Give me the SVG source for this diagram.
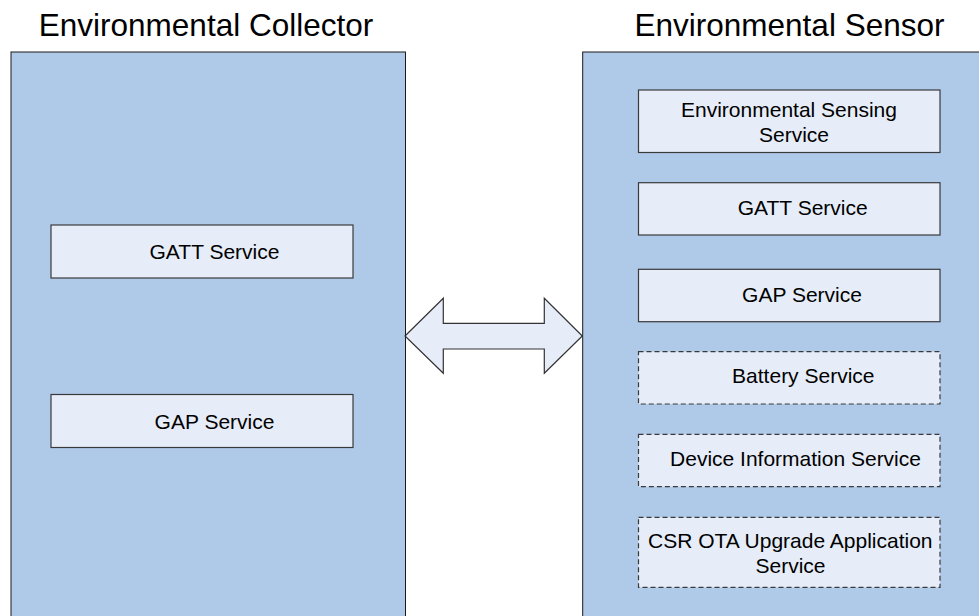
<svg xmlns="http://www.w3.org/2000/svg" width="979" height="616" viewBox="0 0 979 616">
<style>
  .panel { fill: #afc9e9; stroke: #1a1a1a; stroke-width: 1; }
  .box { fill: #e6edf8; stroke: #3a3a3a; stroke-width: 1.2; }
  .dashed { stroke-dasharray: 5 3; }
  .title { font-family: "Liberation Sans", Arial, sans-serif; font-size: 31.5px; fill: #000; text-anchor: middle; }
  .label { font-family: "Liberation Sans", Arial, sans-serif; font-size: 21px; fill: #000; text-anchor: middle; }
  .arrow { fill: #e6edf8; stroke: #333; stroke-width: 1.2; stroke-linejoin: miter; }
</style>
<rect x="0" y="0" width="979" height="616" fill="#ffffff"/>

<g id="collector">
  <rect class="panel" x="11" y="52" width="394.5" height="580"/>
  <text class="title" x="206" y="36">Environmental Collector</text>
</g>
<g id="collector-gatt">
  <rect class="box" x="51" y="225" width="302" height="53"/>
  <text class="label" x="214.5" y="259">GATT Service</text>
</g>
<g id="collector-gap">
  <rect class="box" x="51" y="394.5" width="302" height="53"/>
  <text class="label" x="214.5" y="428.5">GAP Service</text>
</g>

<g id="sensor">
  <rect class="panel" x="582.7" y="52" width="420" height="580"/>
  <text class="title" x="789.5" y="36">Environmental Sensor</text>
</g>
<g id="sensor-ess">
  <rect class="box" x="638.5" y="90" width="301.5" height="62.5"/>
  <text class="label" x="789" y="116.7">Environmental Sensing</text>
  <text class="label" x="794" y="141.7">Service</text>
</g>
<g id="sensor-gatt">
  <rect class="box" x="638.5" y="182.7" width="301.5" height="52.3"/>
  <text class="label" x="802.7" y="214.5">GATT Service</text>
</g>
<g id="sensor-gap">
  <rect class="box" x="638.5" y="269.3" width="301.5" height="52.4"/>
  <text class="label" x="802" y="301.7">GAP Service</text>
</g>
<g id="sensor-battery">
  <rect class="box dashed" x="638.5" y="351.7" width="301.5" height="52.3"/>
  <text class="label" x="803.3" y="383.3">Battery Service</text>
</g>
<g id="sensor-dis">
  <rect class="box dashed" x="638.5" y="434.3" width="301.5" height="52.4"/>
  <text class="label" x="795.5" y="466">Device Information Service</text>
</g>
<g id="sensor-ota">
  <rect class="box dashed" x="638.5" y="517.3" width="301.5" height="70"/>
  <text class="label" x="790.3" y="548.3">CSR OTA Upgrade Application</text>
  <text class="label" x="790.5" y="572.7">Service</text>
</g>

<g id="connectors">
  <polygon class="arrow" points="405,336 443.3,298.3 443.3,323.3 544.3,323.3 544.3,298.3 582.3,336 544.3,373.3 544.3,349 443.3,349 443.3,373.3"/>
</g>
</svg>
